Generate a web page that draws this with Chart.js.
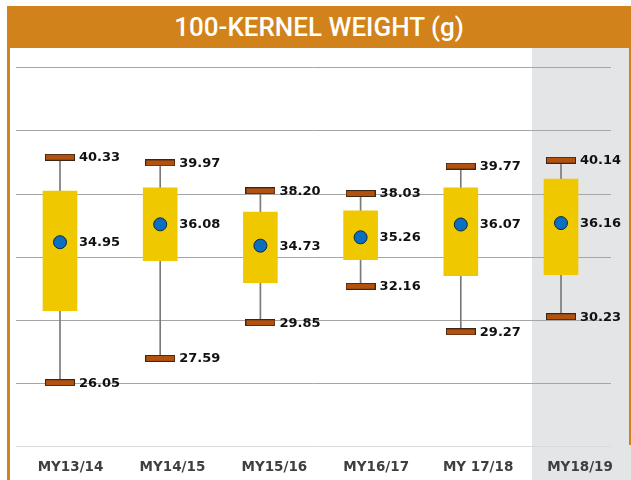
<!DOCTYPE html>
<html>
<head>
<meta charset="utf-8">
<title>100-Kernel Weight</title>
<script src="https://cdn.jsdelivr.net/npm/chart.js@4.4.3/dist/chart.umd.min.js"></script>
<style>
    html, body { margin: 0; padding: 0; background: #fff; }
    #frame { position: relative; width: 631px; height: 480px; overflow: hidden; }
    #header {
        position: absolute; left: 7px; top: 6px; width: 624px; height: 42px;
        background: #d1821a; color: #fff; text-align: center;
        font: 500 26px Roboto, "Liberation Sans", Arial, sans-serif; line-height: 42px;
    }
    #border-left { position: absolute; left: 7px; top: 48px; width: 3px; height: 432px; background: #d1821a; }
    #border-right { position: absolute; left: 629px; top: 48px; width: 2px; height: 397px; background: #d1821a; }
    #highlight { position: absolute; left: 532px; top: 48px; width: 99px; height: 432px; background: #e4e5e7; }
    #chart { position: absolute; left: 0; top: 0; }
</style>
</head>
<body>
<div id="frame">
    <div id="highlight"></div>
    <div id="border-right"></div>
    <div id="border-left"></div>
    <div id="header">100-KERNEL WEIGHT (g)</div>
    <canvas id="chart" width="631" height="480"></canvas>
</div>
<script>
// --- data ---
const categories = ['MY13/14', 'MY14/15', 'MY15/16', 'MY16/17', 'MY 17/18', 'MY18/19'];
const maxVals  = [40.33, 39.97, 38.20, 38.03, 39.77, 40.14];
const minVals  = [26.05, 27.59, 29.85, 32.16, 29.27, 30.23];
const meanVals = [34.95, 36.08, 34.73, 35.26, 36.07, 36.16];
const boxTop    = [38.19, 38.40, 36.86, 36.93, 38.40, 38.95];   // estimated, no label
const boxBottom = [30.61, 33.78, 32.39, 33.84, 32.83, 32.89];   // estimated, no label

const yTicks = { min: 22, max: 46, step: 4 };

// brown cap used as a point style for the max/min whisker ends
function makeCap() {
    const cv = document.createElement('canvas');
    cv.width = 30;
    cv.height = 7;
    const c = cv.getContext('2d');
    c.fillStyle = '#b3520f';
    c.fillRect(0, 0, 30, 7);
    c.strokeStyle = '#3a2718';
    c.lineWidth = 1;
    c.strokeRect(0.5, 0.5, 29, 6);
    return cv;
}
const capImg = makeCap();

const pairs = (lo, hi) => categories.map((_, i) => ({ x: i, y: [lo[i], hi[i]] }));
const points = vals => vals.map((v, i) => ({ x: i, y: v }));

// draws the bold value next to each cap / mean marker
const valueLabels = {
    id: 'valueLabels',
    afterDatasetsDraw(chart) {
        const ctx = chart.ctx;
        ctx.save();
        ctx.font = 'bold 13px "DejaVu Sans", Verdana, sans-serif';
        ctx.fillStyle = '#111';
        ctx.textBaseline = 'middle';
        ctx.textAlign = 'left';
        chart.data.datasets.forEach((ds, di) => {
            if (!ds.showValues) return;
            chart.getDatasetMeta(di).data.forEach((pt, i) => {
                ctx.fillText(ds.data[i].y.toFixed(2), pt.x + 19, pt.y + 0.5);
            });
        });
        ctx.restore();
    }
};

new Chart(document.getElementById('chart'), {
    type: 'bar',
    data: {
        datasets: [
            {
                label: 'Range',
                data: pairs(minVals, maxVals),
                backgroundColor: '#7a7a7a',
                barThickness: 1,
                grouped: false,
                order: 4
            },
            {
                label: 'Box',
                data: pairs(boxBottom, boxTop),
                backgroundColor: '#efc800',
                barThickness: 34,
                grouped: false,
                order: 3
            },
            {
                type: 'scatter',
                label: 'Max',
                data: points(maxVals),
                pointStyle: capImg,
                showValues: true,
                order: 2
            },
            {
                type: 'scatter',
                label: 'Min',
                data: points(minVals),
                pointStyle: capImg,
                showValues: true,
                order: 2
            },
            {
                type: 'scatter',
                label: 'Mean',
                data: points(meanVals),
                pointStyle: 'circle',
                pointRadius: 6.5,
                backgroundColor: '#0a6fc0',
                borderColor: '#14283c',
                borderWidth: 1,
                showValues: true,
                order: 1
            }
        ]
    },
    options: {
        responsive: false,
        animation: false,
        layout: { padding: { left: 16, right: 20, top: 67.7, bottom: 4.7 } },
        plugins: {
            legend: { display: false },
            tooltip: { enabled: false }
        },
        scales: {
            // data axis: box centres
            x: { type: 'linear', min: -0.439, max: 5.499, offset: false, display: false },
            // label axis: category names sit slightly right of the boxes
            x2: {
                type: 'linear',
                position: 'bottom',
                min: -0.535,
                max: 5.304,
                offset: false,
                afterBuildTicks: s => { s.ticks = categories.map((_, i) => ({ value: i })); },
                afterFit: s => { s.height = 28.6; },
                grid: { display: false, drawTicks: false },
                border: { display: false },
                ticks: {
                    autoSkip: false,
                    maxRotation: 0,
                    padding: 13,
                    color: '#3f3f3f',
                    font: { family: '"DejaVu Sans", Verdana, sans-serif', size: 13.5, weight: 'bold' },
                    callback: v => categories[v]
                }
            },
            y: {
                min: yTicks.min,
                max: yTicks.max,
                ticks: { display: false, stepSize: yTicks.step },
                border: { display: false },
                grid: {
                    drawTicks: false,
                    lineWidth: 1,
                    color: c => c.tick.value === yTicks.min ? '#dadada' : '#a6a6a6'
                }
            }
        }
    },
    plugins: [valueLabels]
});
</script>
</body>
</html>
